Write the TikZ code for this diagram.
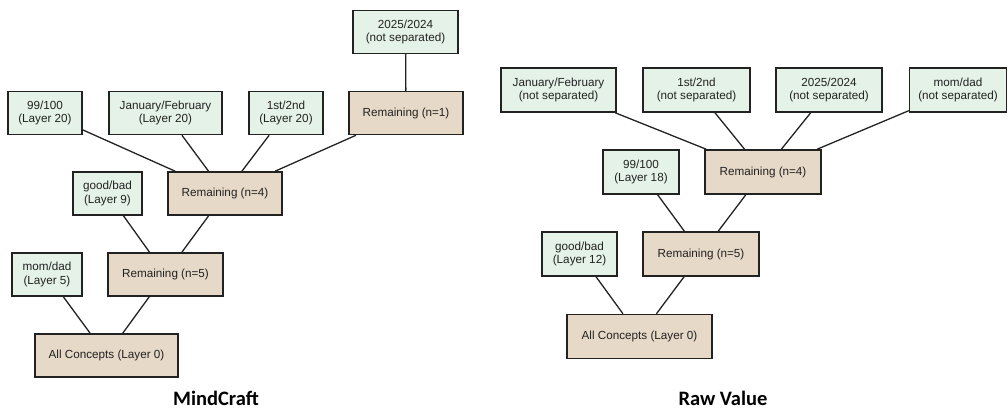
\documentclass[tikz,border=0pt]{standalone}
\usepackage{fontspec}
\setmainfont{Liberation Sans}
\newfontfamily\titlefont{Carlito}
\definecolor{leafgreen}{HTML}{E5F2E8}
\definecolor{resttan}{HTML}{E6D9C7}
\definecolor{ink}{HTML}{222222}
\begin{document}
\begin{tikzpicture}[x=1pt,y=-1pt,
  box/.style={draw=ink,line width=1.5pt,inner sep=0pt,align=center,
    text=ink,font=\fontsize{11.7}{13.5}\selectfont},
  leaf/.style={box,fill=leafgreen,minimum height=43pt},
  rest/.style={box,fill=resttan,minimum height=43pt},
  link/.style={draw=ink,line width=1.3pt},
  title/.style={font=\titlefont\bfseries\fontsize{20.5}{24}\selectfont,text=black}]
\useasboundingbox (0,0) rectangle (1008,409);

% MindCraft tree
\node[rest,minimum width=143pt] (mA) at (106.5,355.5) {All Concepts (Layer 0)};
\node[rest,minimum width=115pt] (mR5) at (165.5,274.5) {Remaining (n=5)};
\node[leaf,minimum width=70pt] (mMom) at (47,274.5) {mom/dad\\(Layer 5)};
\node[rest,minimum width=114pt] (mR4) at (225,193.5) {Remaining (n=4)};
\node[leaf,minimum width=69pt] (mGood) at (107.5,193.5) {good/bad\\(Layer 9)};
\node[leaf,minimum width=74pt] (m99) at (45,113) {99/100\\(Layer 20)};
\node[leaf,minimum width=113pt] (mJan) at (165.5,113) {January/February\\(Layer 20)};
\node[leaf,minimum width=74pt] (m1st) at (286,113) {1st/2nd\\(Layer 20)};
\node[rest,minimum width=114pt] (mR1) at (406,113) {Remaining (n=1)};
\node[leaf,minimum width=105pt] (m2025) at (405.5,32) {2025/2024\\(not separated)};

\draw[link] (mMom) -- (mA);
\draw[link] (mR5) -- (mA);
\draw[link] (mGood) -- (mR5);
\draw[link] (mR4) -- (mR5);
\draw[link] (m99) -- (mR4);
\draw[link] (mJan) -- (mR4);
\draw[link] (m1st) -- (mR4);
\draw[link] (mR1) -- (mR4);
\draw[link] (m2025) -- (mR1);

\node[title] (mTitle) at (216,398) {MindCraft};

% Raw Value tree
\node[rest,minimum width=145pt,minimum height=44pt] (rA) at (639.5,336.5) {All Concepts (Layer 0)};
\node[rest,minimum width=116pt,minimum height=44pt] (rR5) at (701,254) {Remaining (n=5)};
\node[leaf,minimum width=75pt,minimum height=44pt] (rGood) at (579.5,254) {good/bad\\(Layer 12)};
\node[rest,minimum width=116pt,minimum height=44pt] (rR4) at (763,172) {Remaining (n=4)};
\node[leaf,minimum width=76pt,minimum height=44pt] (r99) at (641,172) {99/100\\(Layer 18)};
\node[leaf,minimum width=115pt,minimum height=44pt] (rJan) at (558.5,90) {January/February\\(not separated)};
\node[leaf,minimum width=107pt,minimum height=44pt] (r1st) at (696.5,90) {1st/2nd\\(not separated)};
\node[leaf,minimum width=106pt,minimum height=44pt] (r2025) at (829,90) {2025/2024\\(not separated)};
\node[leaf,minimum width=97pt,minimum height=44pt] (rMom) at (958,90) {mom/dad\\(not separated)};

\draw[link] (rGood) -- (rA);
\draw[link] (rR5) -- (rA);
\draw[link] (r99) -- (rR5);
\draw[link] (rR4) -- (rR5);
\draw[link] (rJan) -- (rR4);
\draw[link] (r1st) -- (rR4);
\draw[link] (r2025) -- (rR4);
\draw[link] (rMom) -- (rR4);

\node[title] (rTitle) at (723,398) {Raw Value};
\end{tikzpicture}
\end{document}
